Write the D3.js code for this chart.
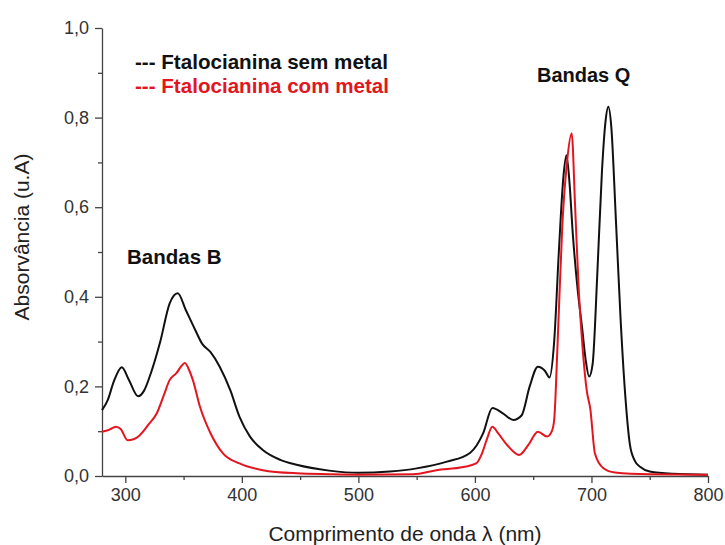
<!DOCTYPE html>
<html>
<head>
<meta charset="utf-8">
<script src="https://cdn.jsdelivr.net/npm/d3@7"></script>
<style>
  body { margin: 0; background: #fff; }
  svg text { font-family: "Liberation Sans", Arial, sans-serif; }
</style>
</head>
<body>
<div id="chart"></div>
<script>
// spectra: wavelength (nm) and absorbance (u.A)
const semMetalNm = [280, 285, 290, 297, 303, 311, 316, 322, 330, 338, 345, 352, 360, 366, 373, 381, 390, 398, 407, 418, 433, 447, 475, 500, 527, 550, 576, 596, 607, 615, 624, 633, 640, 647, 654, 660, 664, 668, 672, 676, 678.5, 681, 684, 688, 692, 695, 698, 701, 705, 709, 712, 714.5, 717, 721, 725, 729, 733, 737, 742, 750, 770, 800];
const semMetalAbs = [0.147, 0.17, 0.21, 0.243, 0.215, 0.178, 0.19, 0.23, 0.3, 0.385, 0.408, 0.37, 0.326, 0.295, 0.277, 0.244, 0.192, 0.132, 0.088, 0.058, 0.036, 0.025, 0.012, 0.007, 0.01, 0.017, 0.032, 0.052, 0.095, 0.152, 0.14, 0.125, 0.135, 0.2, 0.244, 0.235, 0.22, 0.3, 0.5, 0.67, 0.716, 0.66, 0.54, 0.42, 0.33, 0.26, 0.222, 0.25, 0.45, 0.68, 0.79, 0.824, 0.78, 0.57, 0.35, 0.18, 0.07, 0.035, 0.02, 0.01, 0.005, 0.003];

const comMetalNm = [280, 286, 292, 296, 302, 307, 312, 320, 327, 333, 338, 344, 348, 351, 355, 358, 364, 373, 384, 398, 418, 447, 475, 500, 547, 567, 590, 601, 606, 610, 615, 620, 628, 638, 646, 654, 662, 666, 668, 671, 675, 679, 683, 686, 689, 692, 696, 699, 703, 710, 720, 750, 800];
const comMetalAbs = [0.099, 0.103, 0.11, 0.105, 0.08, 0.082, 0.09, 0.115, 0.14, 0.18, 0.214, 0.23, 0.245, 0.252, 0.235, 0.214, 0.155, 0.096, 0.05, 0.028, 0.013, 0.006, 0.004, 0.003, 0.004, 0.013, 0.02, 0.028, 0.05, 0.08, 0.11, 0.095, 0.068, 0.047, 0.07, 0.099, 0.088, 0.1, 0.125, 0.3, 0.56, 0.7, 0.765, 0.6, 0.42, 0.3, 0.19, 0.15, 0.05, 0.018, 0.008, 0.004, 0.003];

const xTicks = [300, 400, 500, 600, 700, 800];
const yTicks = [0, 0.2, 0.4, 0.6, 0.8, 1.0];
const legendLabels = ['--- Ftalocianina sem metal', '--- Ftalocianina com metal'];
const seriesColors = ['#111111', '#e3161f'];

// layout
const width = 725, height = 545;
const margin = {t: 28, r: 17, b: 69, l: 102};
const w = width - margin.l - margin.r;
const h = height - margin.t - margin.b;

const svg = d3.select('#chart').append('svg')
  .attr('width', width)
  .attr('height', height);

const plot = svg.append('g')
  .attr('transform', `translate(${margin.l},${margin.t})`);

// scales
const scaleX = d3.scaleLinear().domain([280, 800]).range([0, w]);
const scaleY = d3.scaleLinear().domain([0, 1]).range([h, 0]);

const fmt = d3.format('.1f');
const comma = d => fmt(d).replace('.', ',');

// axes: majors with labels, minors without
const axisColor = '#444';
plot.append('g').attr('transform', `translate(0,${h})`)
  .call(d3.axisBottom(scaleX).tickValues(xTicks).tickSize(7).tickSizeOuter(0).tickPadding(5).tickFormat(d3.format('d')));
plot.append('g').attr('transform', `translate(0,${h})`)
  .call(d3.axisBottom(scaleX).tickValues([350, 450, 550, 650, 750]).tickSize(4).tickSizeOuter(0).tickFormat(''))
  .select('.domain').remove();

plot.append('g')
  .call(d3.axisLeft(scaleY).tickValues(yTicks).tickSize(7).tickSizeOuter(0).tickPadding(6).tickFormat(comma));
plot.append('g')
  .call(d3.axisLeft(scaleY).tickValues([0.1, 0.3, 0.5, 0.7, 0.9]).tickSize(4).tickSizeOuter(0).tickFormat(''))
  .select('.domain').remove();

plot.selectAll('.domain, .tick line')
  .attr('stroke', axisColor)
  .attr('stroke-width', 1.3);
plot.selectAll('.tick text')
  .attr('fill', '#333')
  .style('font-size', '18px');

// lines
const line = d3.line()
  .x(d => scaleX(d[0]))
  .y(d => scaleY(d[1]))
  .curve(d3.curveMonotoneX);

const series = [
  d3.zip(semMetalNm, semMetalAbs),
  d3.zip(comMetalNm, comMetalAbs)
];

plot.selectAll('.spectrum')
  .data(series)
  .join('path')
  .attr('class', 'spectrum')
  .attr('d', line)
  .attr('fill', 'none')
  .attr('stroke', (d, i) => seriesColors[i])
  .attr('stroke-width', 2)
  .attr('stroke-linejoin', 'round');

// axis titles
svg.append('text')
  .attr('x', margin.l + w / 2)
  .attr('y', 541)
  .attr('text-anchor', 'middle')
  .attr('fill', '#222')
  .style('font-size', '21px')
  .text('Comprimento de onda λ (nm)');

svg.append('text')
  .attr('transform', `translate(29,237) rotate(-90)`)
  .attr('text-anchor', 'middle')
  .attr('fill', '#222')
  .style('font-size', '21px')
  .text('Absorvância (u.A)');

// legend
svg.selectAll('.legend')
  .data(legendLabels)
  .join('text')
  .attr('class', 'legend')
  .attr('x', 135)
  .attr('y', (d, i) => 69 + i * 24)
  .attr('fill', (d, i) => seriesColors[i])
  .style('font-size', '20.6px')
  .style('font-weight', 'bold')
  .text(d => d);

// band annotations
svg.append('text')
  .attr('x', 127).attr('y', 264)
  .style('font-size', '20.5px').style('font-weight', 'bold')
  .attr('fill', '#111')
  .text('Bandas B');
svg.append('text')
  .attr('x', 537).attr('y', 82)
  .style('font-size', '20px').style('font-weight', 'bold')
  .attr('fill', '#111')
  .text('Bandas Q');
</script>
</body>
</html>
